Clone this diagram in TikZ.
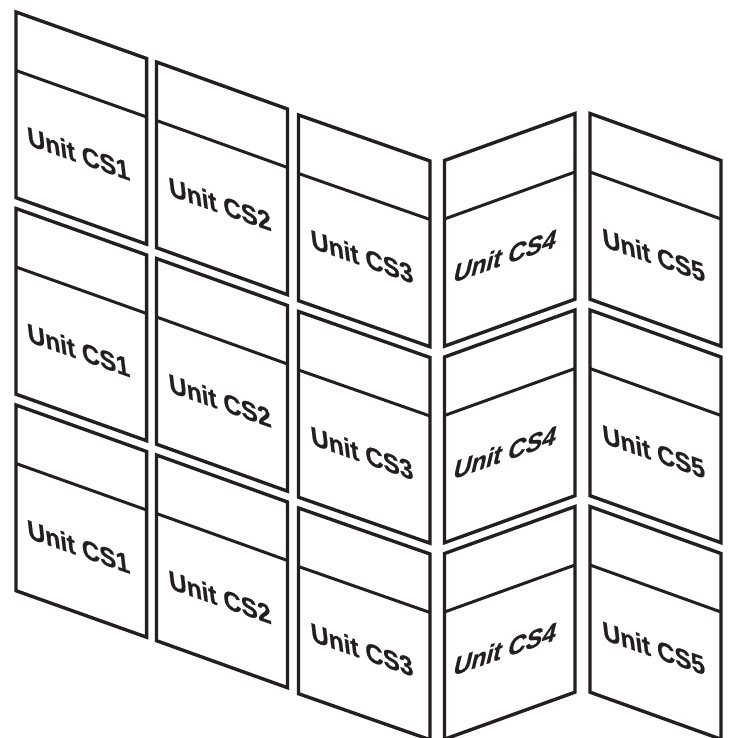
\documentclass[tikz,border=0pt]{standalone}
\usepackage{fontspec}
\setmainfont{Liberation Sans}
\newfontfamily\labelfont[FakeBold=0.6]{Liberation Sans Bold}
\definecolor{ink}{RGB}{35,31,32}
\tikzset{
  x=1pt,y=-1pt,
  panel/.style={draw=ink,line width=3.4pt,miter limit=10,line join=miter},
  divider/.style={draw=ink,line width=3pt},
  unitlabel/.style={text=ink,font=\fontsize{24.5}{26}\labelfont,inner sep=0pt,anchor=center},
  slantdown/.style={cm={1,-0.35,-0.13,1.1,(0,0)}},
  slantup/.style={cm={1,0.35,0.26,1.1,(0,0)}}
}
% #1 name, #2 xL, #3 xR, #4 yL top, #5 yR top, #6 text, #7 tx, #8 ty, #9 slant style
\newcommand{\unitpanel}[9]{%
  \coordinate (#1a) at (#2,#4);
  \coordinate (#1b) at (#3,#5);
  \coordinate (#1c) at (#3,#5+185.7);
  \coordinate (#1d) at (#2,#4+185.7);
  \coordinate (#1e) at (#2,#4+58.5);
  \coordinate (#1f) at (#3,#5+58.5);
  \draw[panel] (#1a) -- (#1b) -- (#1c) -- (#1d) -- cycle;
  \draw[divider] (#1e) -- (#1f);
  \node[unitlabel,#9] (#1t) at (#7,#8) {#6};
}
\begin{document}
\begin{tikzpicture}
\useasboundingbox (0,0) rectangle (730,738);
\fill[white] (0,0) rectangle (730,738);
\begin{scope}
\clip (0,0) rectangle (730,738);
\foreach \r [count=\n] in {0,196.5,393}{
  \unitpanel{pa\n}{16}{146.6}{12+\r}{58.5+\r}{Unit CS1}{78.5}{153.5+\r}{slantdown}
  \unitpanel{pb\n}{156.5}{287.5}{62+\r}{109+\r}{Unit CS2}{220}{204+\r}{slantdown}
  \unitpanel{pc\n}{298.5}{430}{115+\r}{161+\r}{Unit CS3}{362}{256.5+\r}{slantdown}
  \unitpanel{pd\n}{444.5}{575}{160.5+\r}{113.5+\r}{Unit CS4}{505.5}{255.5+\r}{slantup}
  \unitpanel{pe\n}{590}{721}{113.5+\r}{160.5+\r}{Unit CS5}{653.7}{255+\r}{slantdown}
}
\end{scope}
\end{tikzpicture}
\end{document}
